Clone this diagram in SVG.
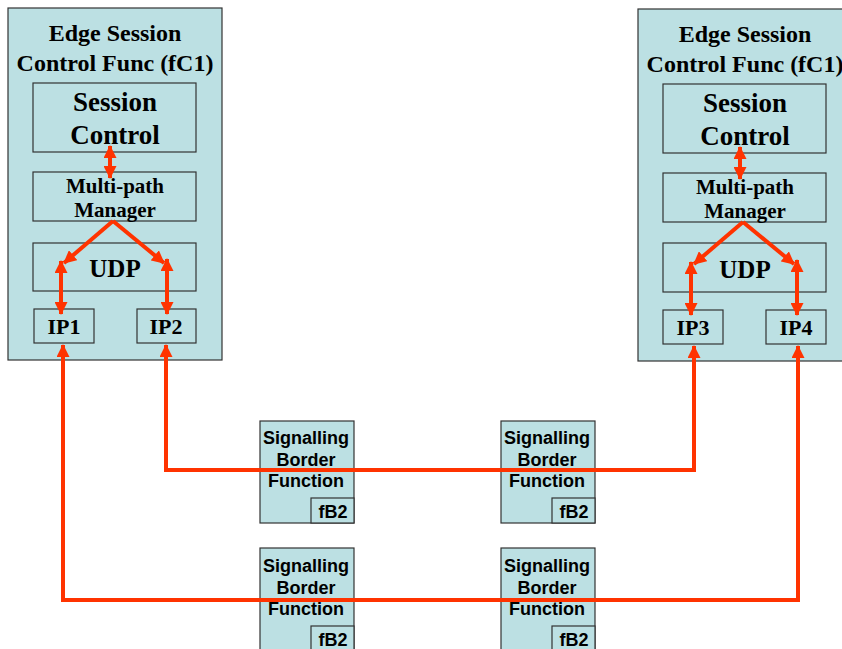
<svg xmlns="http://www.w3.org/2000/svg" width="842" height="649" viewBox="0 0 842 649">
<defs>
<marker id="ah" viewBox="0 0 13 13" refX="12" refY="6.5" markerWidth="13" markerHeight="13" markerUnits="userSpaceOnUse" orient="auto-start-reverse">
<path d="M0,0 L13,6.5 L0,13 Z" fill="#FF3300"/>
</marker>
<style>
.box{fill:#BCE0E3;stroke:#333;stroke-width:1.2}
.ser{font-family:"Liberation Serif","Times New Roman",serif;font-weight:bold;fill:#000;text-anchor:middle}
.san{font-family:"Liberation Sans",Arial,sans-serif;font-weight:bold;fill:#000;text-anchor:middle;font-size:18px}
.t1{font-size:24px}
.t2{font-size:27px}
.t5{font-size:25px}
.t3{font-size:21px}
.t4{font-size:22px}
.c{fill:none;stroke:#FF3300;stroke-width:4}
</style>
</defs>
<g id="escf-left">
<rect class="box" x="8" y="8" width="214" height="352"/>
<text class="ser t1" x="115" y="41">Edge Session</text>
<text class="ser t1" x="115" y="71">Control Func (fC1)</text>
</g>
<g id="sc-left"><rect class="box" x="33" y="83" width="163" height="69"/>
<text class="ser t2" x="115" y="111">Session</text><text class="ser t2" x="115" y="144">Control</text></g>
<g id="mpm-left"><rect class="box" x="33" y="172" width="163" height="49"/>
<text class="ser t3" x="115" y="193">Multi-path</text><text class="ser t3" x="115" y="217">Manager</text></g>
<g id="udp-left"><rect class="box" x="33" y="243" width="163" height="48"/>
<text class="ser t5" x="115" y="277">UDP</text></g>
<g id="ip1"><rect class="box" x="34" y="309" width="60" height="34"/><text class="ser t4" x="64" y="334">IP1</text></g>
<g id="ip2"><rect class="box" x="137" y="309" width="59" height="34"/><text class="ser t4" x="166" y="334">IP2</text></g>

<g id="escf-right">
<rect class="box" x="638" y="9" width="214" height="352"/>
<text class="ser t1" x="745" y="42">Edge Session</text>
<text class="ser t1" x="745" y="72">Control Func (fC1)</text>
</g>
<g id="sc-right"><rect class="box" x="663" y="84" width="163" height="69"/>
<text class="ser t2" x="745" y="112">Session</text><text class="ser t2" x="745" y="145">Control</text></g>
<g id="mpm-right"><rect class="box" x="663" y="173" width="163" height="49"/>
<text class="ser t3" x="745" y="194">Multi-path</text><text class="ser t3" x="745" y="218">Manager</text></g>
<g id="udp-right"><rect class="box" x="663" y="243" width="163" height="49"/>
<text class="ser t5" x="745" y="278">UDP</text></g>
<g id="ip3"><rect class="box" x="663" y="310" width="60" height="34"/><text class="ser t4" x="693" y="335">IP3</text></g>
<g id="ip4"><rect class="box" x="766" y="310" width="60" height="34"/><text class="ser t4" x="796" y="335">IP4</text></g>

<g id="sbf1"><rect class="box" x="260" y="421" width="94" height="102"/><rect class="box" x="311" y="498" width="43" height="25"/>
<text class="san" x="306" y="444">Signalling</text><text class="san" x="306" y="466">Border</text><text class="san" x="306" y="487">Function</text><text class="san" x="333" y="518">fB2</text></g>
<g id="sbf2"><rect class="box" x="501" y="421" width="94" height="102"/><rect class="box" x="552" y="498" width="43" height="25"/>
<text class="san" x="547" y="444">Signalling</text><text class="san" x="547" y="466">Border</text><text class="san" x="547" y="487">Function</text><text class="san" x="574" y="518">fB2</text></g>
<g id="sbf3"><rect class="box" x="260" y="548" width="94" height="110"/><rect class="box" x="311" y="626" width="43" height="30"/>
<text class="san" x="306" y="572">Signalling</text><text class="san" x="306" y="594">Border</text><text class="san" x="306" y="615">Function</text><text class="san" x="333" y="646">fB2</text></g>
<g id="sbf4"><rect class="box" x="501" y="548" width="94" height="110"/><rect class="box" x="552" y="626" width="43" height="30"/>
<text class="san" x="547" y="572">Signalling</text><text class="san" x="547" y="594">Border</text><text class="san" x="547" y="615">Function</text><text class="san" x="574" y="646">fB2</text></g>

<g id="connectors">
<path class="c" d="M110,146 L110,178" marker-start="url(#ah)" marker-end="url(#ah)"/>
<path class="c" d="M113,221 L64,263" marker-end="url(#ah)"/>
<path class="c" d="M113,221 L164,263" marker-end="url(#ah)"/>
<path class="c" d="M61,261 L61,314" marker-start="url(#ah)" marker-end="url(#ah)"/>
<path class="c" d="M167,259 L167,314" marker-start="url(#ah)" marker-end="url(#ah)"/>
<path class="c" d="M740,147 L740,179" marker-start="url(#ah)" marker-end="url(#ah)"/>
<path class="c" d="M743,222 L694,264" marker-end="url(#ah)"/>
<path class="c" d="M743,222 L794,264" marker-end="url(#ah)"/>
<path class="c" d="M691,262 L691,315" marker-start="url(#ah)" marker-end="url(#ah)"/>
<path class="c" d="M797,260 L797,315" marker-start="url(#ah)" marker-end="url(#ah)"/>
<path class="c" d="M63,345 L63,600 L798,600 L798,346" marker-start="url(#ah)" marker-end="url(#ah)"/>
<path class="c" d="M166,345 L166,470 L694,470 L694,346" marker-start="url(#ah)" marker-end="url(#ah)"/>
</g>
</svg>
